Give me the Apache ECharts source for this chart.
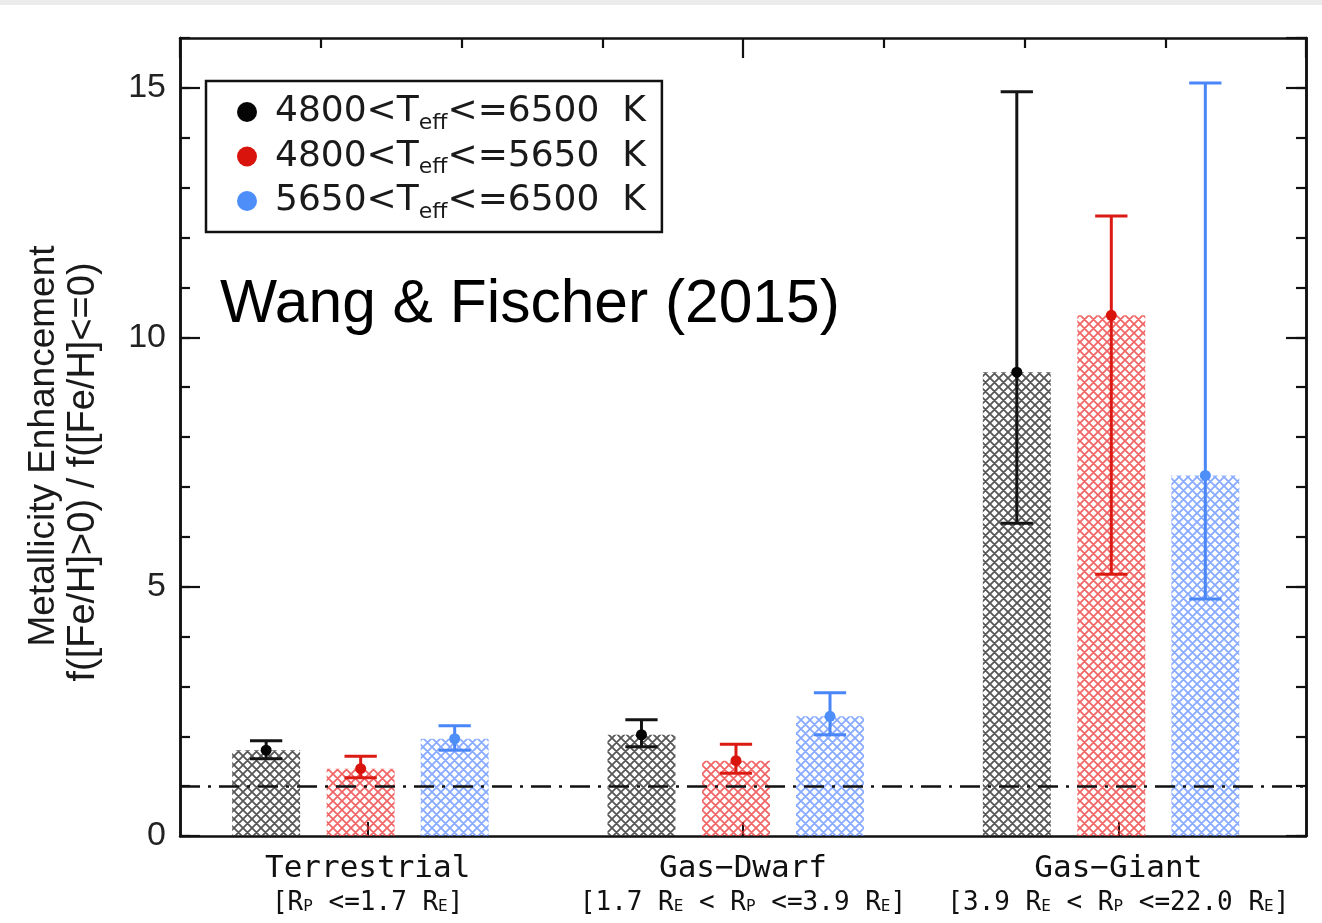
<!DOCTYPE html>
<html>
<head>
<meta charset="utf-8">
<script src="https://cdn.jsdelivr.net/npm/echarts@6/dist/echarts.min.js"></script>
<style>
html, body { margin: 0; padding: 0; background: #ffffff; }
#chart { width: 1322px; height: 923px; }
</style>
</head>
<body>
<div id="chart"></div>
<script>
// ---------------- data ----------------
const categories = ['Terrestrial', 'Gas\u2212Dwarf', 'Gas\u2212Giant'];
const radiusRanges = ['[R_P <=1.7 R_E]', '[1.7 R_E < R_P <=3.9 R_E]', '[3.9 R_E < R_P <=22.0 R_E]'];
const tempBins = ['4800<T_eff<=6500 K', '4800<T_eff<=5650 K', '5650<T_eff<=6500 K'];

const allValues = [1.72, 2.03, 9.30];
const allLow    = [1.55, 1.79, 6.27];
const allHigh   = [1.91, 2.33, 14.92];

const coolValues = [1.35, 1.51, 10.44];
const coolLow    = [1.17, 1.26, 5.25];
const coolHigh   = [1.60, 1.84, 12.43];

const hotValues = [1.95, 2.40, 7.23];
const hotLow    = [1.72, 2.03, 4.75];
const hotHigh   = [2.21, 2.87, 15.10];

const parityLevel = 1;
const yTickLabels = [0, 5, 10, 15];

// ---------------- style ----------------
const SLOT_OFFSET = [-0.2705, -0.0187, 0.2318]; // fraction of category band
const BAR_WIDTH = 0.181;
const CAP_WIDTH = 0.086;
const LINE_COLORS = ['#141414', '#dc1a14', '#4a86f7'];
const DOT_COLORS = ['#050505', '#d8140c', '#4d8ef8'];
const HATCH_COLORS = ['rgba(45,45,45,0.8)', 'rgba(236,52,52,0.75)', 'rgba(86,134,255,0.7)'];

function makeHatch(color) {
  const s = 9;
  const c = document.createElement('canvas');
  c.width = s; c.height = s;
  const ctx = c.getContext('2d');
  ctx.strokeStyle = color;
  ctx.lineWidth = 1.8;
  ctx.beginPath();
  for (const k of [-s, 0, s]) {
    ctx.moveTo(k - 1, -1); ctx.lineTo(k + s + 1, s + 1);
    ctx.moveTo(k + s + 1, -1); ctx.lineTo(k - 1, s + 1);
  }
  ctx.stroke();
  return c;
}
const PATTERNS = HATCH_COLORS.map(makeHatch);

function buildData(vals, lows, highs) {
  return vals.map((v, i) => [i, v, lows[i], highs[i]]);
}

function barRenderer(slot) {
  return function (params, api) {
    const c = api.value(0), v = api.value(1), lo = api.value(2), hi = api.value(3);
    const band = api.size([1, 0])[0];
    const base = api.coord([c, 0]);
    const xc = base[0] + SLOT_OFFSET[slot] * band;
    const hw = BAR_WIDTH * band / 2;
    const cw = CAP_WIDTH * band / 2;
    const yv = api.coord([c, v])[1];
    const ylo = api.coord([c, lo])[1];
    const yhi = api.coord([c, hi])[1];
    const col = LINE_COLORS[slot];
    return {
      type: 'group',
      children: [
        { type: 'rect', shape: { x: xc - hw, y: yv, width: 2 * hw, height: base[1] - yv },
          style: { fill: { image: PATTERNS[slot], repeat: 'repeat' } } },
        { type: 'line', shape: { x1: xc, y1: yhi, x2: xc, y2: ylo }, style: { stroke: col, lineWidth: 3 } },
        { type: 'line', shape: { x1: xc - cw, y1: yhi, x2: xc + cw, y2: yhi }, style: { stroke: col, lineWidth: 3 } },
        { type: 'line', shape: { x1: xc - cw, y1: ylo, x2: xc + cw, y2: ylo }, style: { stroke: col, lineWidth: 3 } },
        { type: 'circle', shape: { cx: xc, cy: yv, r: 5.5 }, style: { fill: DOT_COLORS[slot] } }
      ]
    };
  };
}

const AXIS_COLOR = '#111111';
const MONO = '"DejaVu Sans Mono", monospace';
const SANS = '"Liberation Sans", Arial, sans-serif';
const DJV = '"DejaVu Sans", sans-serif';

function rangeRich(txt) {
  return '{b|' + txt.replace(/_(\w)/g, '}{s|$1}{b|') + '}';
}

const seriesSpecs = [
  [allValues, allLow, allHigh],
  [coolValues, coolLow, coolHigh],
  [hotValues, hotLow, hotHigh]
];

const series = seriesSpecs.map((spec, slot) => ({
  type: 'custom',
  name: tempBins[slot],
  xAxisIndex: 0,
  yAxisIndex: 0,
  itemStyle: { color: DOT_COLORS[slot] },
  renderItem: barRenderer(slot),
  encode: { x: 0, y: 1 },
  data: buildData(spec[0], spec[1], spec[2]),
  clip: false,
  z: 2
}));

series[0].markLine = {
  silent: true,
  symbol: 'none',
  label: { show: false },
  z: 5,
  lineStyle: { color: AXIS_COLOR, width: 2.5, type: [20, 8, 3, 8] },
  data: [{ yAxis: parityLevel }]
};

function yAxisDef(position, interval, tickLen, showLabel) {
  return {
    type: 'value',
    position: position,
    min: 0,
    max: 16,
    interval: interval,
    axisLine: { show: true, onZero: false, lineStyle: { color: AXIS_COLOR, width: 2.5 } },
    axisTick: { show: true, inside: true, length: tickLen, lineStyle: { color: AXIS_COLOR, width: 2.2 } },
    splitLine: { show: false },
    axisLabel: showLabel ? {
      show: true,
      margin: 14,
      color: '#222222',
      fontFamily: SANS,
      fontSize: 34,
      showMaxLabel: false,
      formatter: v => (yTickLabels.indexOf(v) >= 0 ? String(v) : '')
    } : { show: false }
  };
}

const option = {
  animation: false,
  backgroundColor: '#ffffff',
  grid: { left: 180, right: 16, top: 38, bottom: 87, containLabel: false },
  xAxis: [
    {
      type: 'category',
      position: 'bottom',
      data: categories,
      axisLine: { show: true, onZero: false, lineStyle: { color: AXIS_COLOR, width: 2.5 } },
      axisTick: { show: true, inside: true, alignWithLabel: true, length: 14, lineStyle: { color: AXIS_COLOR, width: 2 } },
      splitLine: { show: false },
      axisLabel: {
        show: true,
        interval: 0,
        margin: 16,
        color: '#111111',
        formatter: (val, idx) => '{t|' + val + '}\n' + rangeRich(radiusRanges[idx]),
        rich: {
          t: { fontFamily: MONO, fontSize: 31, lineHeight: 34, color: '#111111', verticalAlign: 'middle' },
          b: { fontFamily: MONO, fontSize: 26, lineHeight: 34, color: '#111111', verticalAlign: 'middle' },
          s: { fontFamily: MONO, fontSize: 16, lineHeight: 16, color: '#111111', verticalAlign: 'middle', padding: [8, 0, 0, 0] }
        }
      }
    },
    {
      type: 'value',
      position: 'top',
      min: 0,
      max: 8,
      interval: 4,
      axisLine: { show: true, onZero: false, lineStyle: { color: AXIS_COLOR, width: 2.5 } },
      axisTick: { show: true, inside: true, length: 20, lineStyle: { color: AXIS_COLOR, width: 2.2 } },
      minorTick: { show: true, splitNumber: 4, length: 10, lineStyle: { color: AXIS_COLOR, width: 2.2 } },
      splitLine: { show: false },
      minorSplitLine: { show: false },
      axisLabel: { show: false }
    }
  ],
  yAxis: [
    yAxisDef('left', 5, 20, true),
    yAxisDef('left', 1, 10, false),
    yAxisDef('right', 5, 20, false),
    yAxisDef('right', 1, 10, false)
  ],
  legend: {
    show: true,
    orient: 'vertical',
    left: 206,
    top: 81,
    padding: [9, 16, 9, 31],
    itemGap: 0.5,
    itemWidth: 20,
    itemHeight: 20,
    icon: 'circle',
    borderColor: AXIS_COLOR,
    borderWidth: 2.5,
    borderRadius: 0,
    backgroundColor: '#ffffff',
    selectedMode: false,
    data: tempBins,
    formatter: name => '{m|' + name.replace('T_eff', 'T}{s|eff}{m|').replace(' K', '  K') + '}',
    textStyle: {
      fontFamily: DJV,
      fontSize: 36,
      lineHeight: 44,
      color: '#1a1a1a',
      padding: [0, 0, 0, 13],
      rich: {
        m: { fontFamily: DJV, fontSize: 36, lineHeight: 44, color: '#1a1a1a', verticalAlign: 'middle' },
        s: { fontFamily: DJV, fontSize: 22, lineHeight: 22, color: '#1a1a1a', verticalAlign: 'middle', padding: [22, 0, 0, 0] }
      }
    }
  },
  graphic: [
    { type: 'rect', left: 0, top: 0, z: -10, shape: { width: 1322, height: 5 }, style: { fill: '#ebebeb' } },
    { type: 'text', x: 220, y: 305, z: 10,
      style: { text: 'Wang & Fischer (2015)', font: '60.5px "Liberation Sans", Arial, sans-serif', fill: '#000000', textVerticalAlign: 'middle', textAlign: 'left' } },
    { type: 'text', x: 44, y: 446, rotation: Math.PI / 2, z: 10,
      style: { text: 'Metallicity Enhancement', font: '37px "Liberation Sans", Arial, sans-serif', fill: '#1a1a1a', textAlign: 'center', textVerticalAlign: 'middle' } },
    { type: 'text', x: 84, y: 472, rotation: Math.PI / 2, z: 10,
      style: { text: 'f([Fe/H]>0) / f([Fe/H]<=0)', font: '38px "Liberation Sans", Arial, sans-serif', fill: '#1a1a1a', textAlign: 'center', textVerticalAlign: 'middle' } }
  ],
  series: series
};

const chart = echarts.init(document.getElementById('chart'), null, { renderer: 'canvas' });
chart.setOption(option);
</script>
</body>
</html>
